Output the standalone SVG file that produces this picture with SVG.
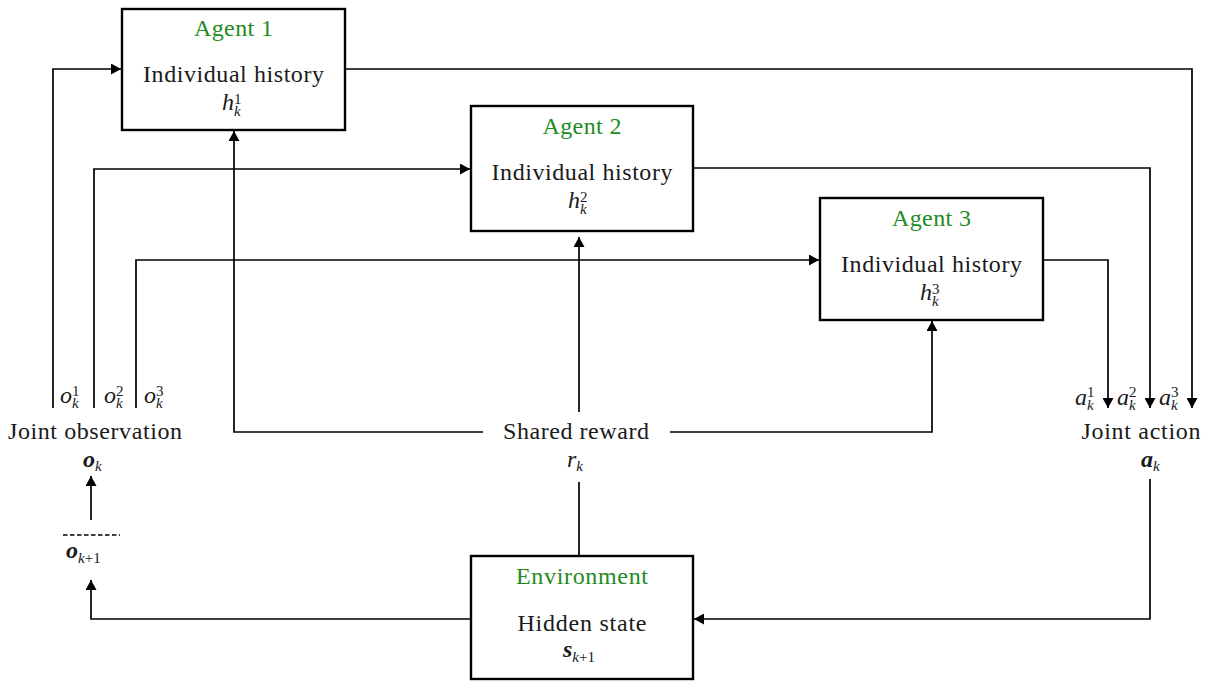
<svg xmlns="http://www.w3.org/2000/svg" width="1207" height="681" viewBox="0 0 1207 681">
  <style>
    .box { fill: #ffffff; stroke: #000000; stroke-width: 2.4; }
    .wire { fill: none; stroke: #000000; stroke-width: 1.7; }
    .txt { font-family: "Liberation Serif", "DejaVu Serif", serif; font-size: 24px; fill: #1a1a1a; text-anchor: middle; }
    .title { font-family: "Liberation Serif", "DejaVu Serif", serif; font-size: 24px; fill: #228b22; text-anchor: middle; }
    .m { font-family: "Liberation Serif", "DejaVu Serif", serif; font-size: 24px; font-style: italic; fill: #1a1a1a; }
    .b { font-weight: bold; }
    .sc { font-size: 15px; font-weight: normal; }
    .up { font-style: normal; }
  </style>
  <defs>
    <marker id="arr" viewBox="0 0 10 11" markerUnits="userSpaceOnUse" markerWidth="10" markerHeight="11" refX="10" refY="5.5" orient="auto">
      <path d="M0,0 L10,5.5 L0,11 z" fill="#000000"/>
    </marker>
  </defs>

  <!-- connectors -->
  <g id="connectors">
    <!-- individual observations into each agent -->
    <path class="wire" d="M53,408 V69 H121" marker-end="url(#arr)"/>
    <path class="wire" d="M94,408 V169 H470" marker-end="url(#arr)"/>
    <path class="wire" d="M136,408 V260 H819" marker-end="url(#arr)"/>
    <!-- individual actions out of each agent -->
    <path class="wire" d="M345,69 H1192 V408" marker-end="url(#arr)"/>
    <path class="wire" d="M693,168 H1150 V408" marker-end="url(#arr)"/>
    <path class="wire" d="M1043,260 H1108 V408" marker-end="url(#arr)"/>
    <!-- shared reward to the agents -->
    <path class="wire" d="M483,432 H234 V131" marker-end="url(#arr)"/>
    <path class="wire" d="M579,412 V237" marker-end="url(#arr)"/>
    <path class="wire" d="M670,432 H932 V321" marker-end="url(#arr)"/>
    <!-- environment to reward -->
    <path class="wire" d="M579,482 V556"/>
    <!-- joint action into environment -->
    <path class="wire" d="M1150,479 V619 H694" marker-end="url(#arr)"/>
    <!-- environment to next observation -->
    <path class="wire" d="M471,619 H91 V580" marker-end="url(#arr)"/>
    <!-- next observation becomes current observation -->
    <path class="wire" d="M91,520 V476" marker-end="url(#arr)"/>
    <line class="wire" x1="63" y1="535" x2="120" y2="535" stroke-width="1.8" stroke-dasharray="4.5,2.5"/>
  </g>

  <!-- agent 1 -->
  <g id="agent1">
    <rect class="box" x="122" y="9" width="223" height="121"/>
    <text class="title" x="233.5" y="36" textLength="79" lengthAdjust="spacing">Agent 1</text>
    <text class="txt" x="233.5" y="82" textLength="181" lengthAdjust="spacing">Individual history</text>
    <text class="m" x="222" y="110">h<tspan class="sc up" dy="-6">1</tspan><tspan class="sc" dx="-7.5" dy="12">k</tspan></text>
  </g>

  <!-- agent 2 -->
  <g id="agent2">
    <rect class="box" x="471" y="106" width="222" height="125"/>
    <text class="title" x="582" y="134" textLength="79" lengthAdjust="spacing">Agent 2</text>
    <text class="txt" x="582" y="180" textLength="181" lengthAdjust="spacing">Individual history</text>
    <text class="m" x="568" y="208">h<tspan class="sc up" dy="-6">2</tspan><tspan class="sc" dx="-7.5" dy="12">k</tspan></text>
  </g>

  <!-- agent 3 -->
  <g id="agent3">
    <rect class="box" x="820" y="198" width="223" height="122"/>
    <text class="title" x="931.5" y="226" textLength="79" lengthAdjust="spacing">Agent 3</text>
    <text class="txt" x="931.5" y="272" textLength="181" lengthAdjust="spacing">Individual history</text>
    <text class="m" x="920" y="300">h<tspan class="sc up" dy="-6">3</tspan><tspan class="sc" dx="-7.5" dy="12">k</tspan></text>
  </g>

  <!-- environment -->
  <g id="environment">
    <rect class="box" x="471" y="556" width="222" height="123"/>
    <text class="title" x="582" y="584" textLength="132" lengthAdjust="spacing">Environment</text>
    <text class="txt" x="582" y="631" textLength="129" lengthAdjust="spacing">Hidden state</text>
    <text class="m b" x="563" y="657">s<tspan class="sc" dy="5">k</tspan><tspan class="sc up">+1</tspan></text>
  </g>

  <!-- shared reward -->
  <g id="reward">
    <text class="txt" x="576" y="439" textLength="146" lengthAdjust="spacing">Shared reward</text>
    <text class="m" x="567" y="467">r<tspan class="sc" dy="4">k</tspan></text>
  </g>

  <!-- joint observation -->
  <g id="observation">
    <text class="m" x="60" y="403">o<tspan class="sc up" dy="-7">1</tspan><tspan class="sc" dx="-7.5" dy="12">k</tspan></text>
    <text class="m" x="104" y="403">o<tspan class="sc up" dy="-7">2</tspan><tspan class="sc" dx="-7.5" dy="12">k</tspan></text>
    <text class="m" x="144" y="403">o<tspan class="sc up" dy="-7">3</tspan><tspan class="sc" dx="-7.5" dy="12">k</tspan></text>
    <text class="txt" x="95" y="439" textLength="174" lengthAdjust="spacing">Joint observation</text>
    <text class="m b" x="83" y="467">o<tspan class="sc" dy="4">k</tspan></text>
    <text class="m b" x="66" y="558">o<tspan class="sc" dy="5">k</tspan><tspan class="sc up">+1</tspan></text>
  </g>

  <!-- joint action -->
  <g id="action">
    <text class="m" x="1075" y="405">a<tspan class="sc up" dy="-8">1</tspan><tspan class="sc" dx="-7.5" dy="13">k</tspan></text>
    <text class="m" x="1117" y="405">a<tspan class="sc up" dy="-8">2</tspan><tspan class="sc" dx="-7.5" dy="13">k</tspan></text>
    <text class="m" x="1159" y="405">a<tspan class="sc up" dy="-8">3</tspan><tspan class="sc" dx="-7.5" dy="13">k</tspan></text>
    <text class="txt" x="1141" y="439" textLength="119" lengthAdjust="spacing">Joint action</text>
    <text class="m b" x="1141" y="467">a<tspan class="sc" dy="4">k</tspan></text>
  </g>
</svg>
